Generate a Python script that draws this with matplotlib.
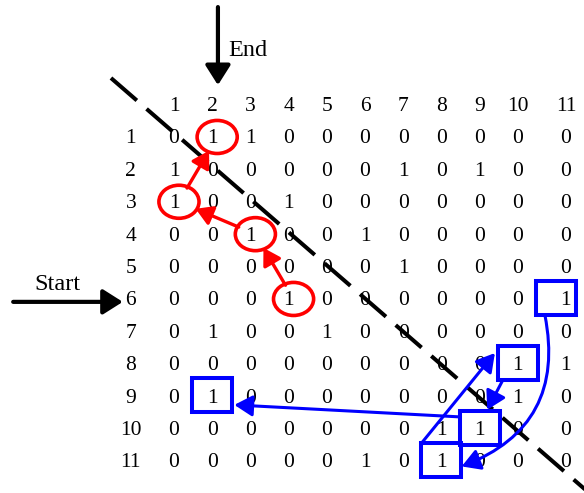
import numpy as np
import matplotlib
matplotlib.use('Agg')
import matplotlib.pyplot as plt
from matplotlib.patches import Ellipse, Rectangle

plt.rcParams['font.family'] = ['Liberation Serif', 'DejaVu Serif']

# adjacency matrix shown in the picture
labels = list(range(1, 12))
matrix = [
    [0, 1, 1, 0, 0, 0, 0, 0, 0, 0, 0],
    [1, 0, 0, 0, 0, 0, 1, 0, 1, 0, 0],
    [1, 0, 0, 1, 0, 0, 0, 0, 0, 0, 0],
    [0, 0, 1, 0, 0, 1, 0, 0, 0, 0, 0],
    [0, 0, 0, 0, 0, 0, 1, 0, 0, 0, 0],
    [0, 0, 0, 1, 0, 0, 0, 0, 0, 0, 1],
    [0, 1, 0, 0, 1, 0, 0, 0, 0, 0, 0],
    [0, 0, 0, 0, 0, 0, 0, 0, 0, 1, 1],
    [0, 1, 0, 0, 0, 0, 0, 0, 0, 1, 0],
    [0, 0, 0, 0, 0, 0, 0, 1, 1, 0, 0],
    [0, 0, 0, 0, 0, 1, 0, 1, 0, 0, 0],
]

# paths through the matrix, as (row, col)
red_path = [(6, 4), (4, 3), (3, 1), (1, 2)]
blue_path = [(6, 11), (11, 8), (8, 10), (10, 9), (9, 2)]
start_row = 6
end_col = 2

fig = plt.figure(figsize=(5.84, 4.93), dpi=100)
ax = fig.add_axes([0, 0, 1, 1])
ax.set_xlim(-3.555, 11.733)
ax.set_ylim(12.02, -3.198)
ax.axis('off')

fs = 15.5
fs_big = 17.5
dy = 0.09  # text sits a little low in its cell
# last column is drawn a bit further right, like in the original table
col_x = [c + (0.26 if c == 11 else 0) for c in labels]

# header row and row labels
for c, x in zip(labels, col_x):
    ax.text(x, dy, str(c), ha='center', va='center', fontsize=fs)
for r in labels:
    ax.text(-0.13, r + dy, str(r), ha='center', va='center', fontsize=fs)

# matrix values
for i, r in enumerate(labels):
    for j, x in enumerate(col_x):
        ax.text(x, r + dy, str(matrix[i][j]), ha='center', va='center', fontsize=fs)

# dashed diagonal
line, = ax.plot([-0.65, 11.8], [-0.79, 11.95], color='black', lw=2.9)
line.set_dashes([8.5, 3.2])

# red circles and arrows
red_patches = []
for r, c in red_path:
    e = Ellipse((c + 0.13, r + 0.03), 1.05, 1.02, fill=False, ec='red', lw=2.6, zorder=3)
    ax.add_patch(e)
    red_patches.append(e)
for a, b in zip(red_patches[:-1], red_patches[1:]):
    ax.annotate('', xy=b.center, xytext=a.center,
                arrowprops=dict(arrowstyle='-|>,head_length=0.5,head_width=0.3',
                                color='red', lw=2.4, mutation_scale=20,
                                patchA=a, patchB=b, shrinkA=0, shrinkB=0))

# blue squares and arrows
half = 0.525
for r, c in blue_path:
    s = Rectangle((c - half, r - half), 2 * half, 2 * half, fill=False,
                  ec='blue', lw=2.9, zorder=3)
    ax.add_patch(s)

# where each blue arrow leaves / reaches its square (offset from the cell centre)
leave = [(-0.29, 0.53), (-0.52, -0.52), (-0.39, 0.53), (-0.53, -0.33)]
reach = [(0.53, 0.2), (-0.6, -0.3), (0.2, -0.55), (0.58, 0.3)]
rads = [-0.42, 0, 0, 0]
for k in range(len(blue_path) - 1):
    (r0, c0), (r1, c1) = blue_path[k], blue_path[k + 1]
    ax.annotate('', xy=(c1 + reach[k][0], r1 + reach[k][1]),
                xytext=(c0 + leave[k][0], r0 + leave[k][1]),
                arrowprops=dict(arrowstyle='-|>,head_length=0.55,head_width=0.32',
                                color='blue', lw=2.2, mutation_scale=20,
                                connectionstyle='arc3,rad=%s' % rads[k],
                                shrinkA=0, shrinkB=0))

# Start / End markers
black_arrow = dict(arrowstyle='-|>,head_length=0.6,head_width=0.38', color='black',
                   lw=3, mutation_scale=20, shrinkA=0, shrinkB=0)
ax.annotate('', xy=(-0.34, start_row + 0.12), xytext=(-3.21, start_row + 0.12),
            arrowprops=black_arrow)
ax.text(-2.04, start_row - 0.5 + dy, 'Start', ha='center', va='center', fontsize=fs_big)
ax.annotate('', xy=(end_col + 0.15, -0.57), xytext=(end_col + 0.15, -2.98),
            arrowprops=black_arrow)
ax.text(end_col + 0.43, -1.72 + dy, 'End', ha='left', va='center', fontsize=fs_big)

fig.savefig('out.png', dpi=100)
